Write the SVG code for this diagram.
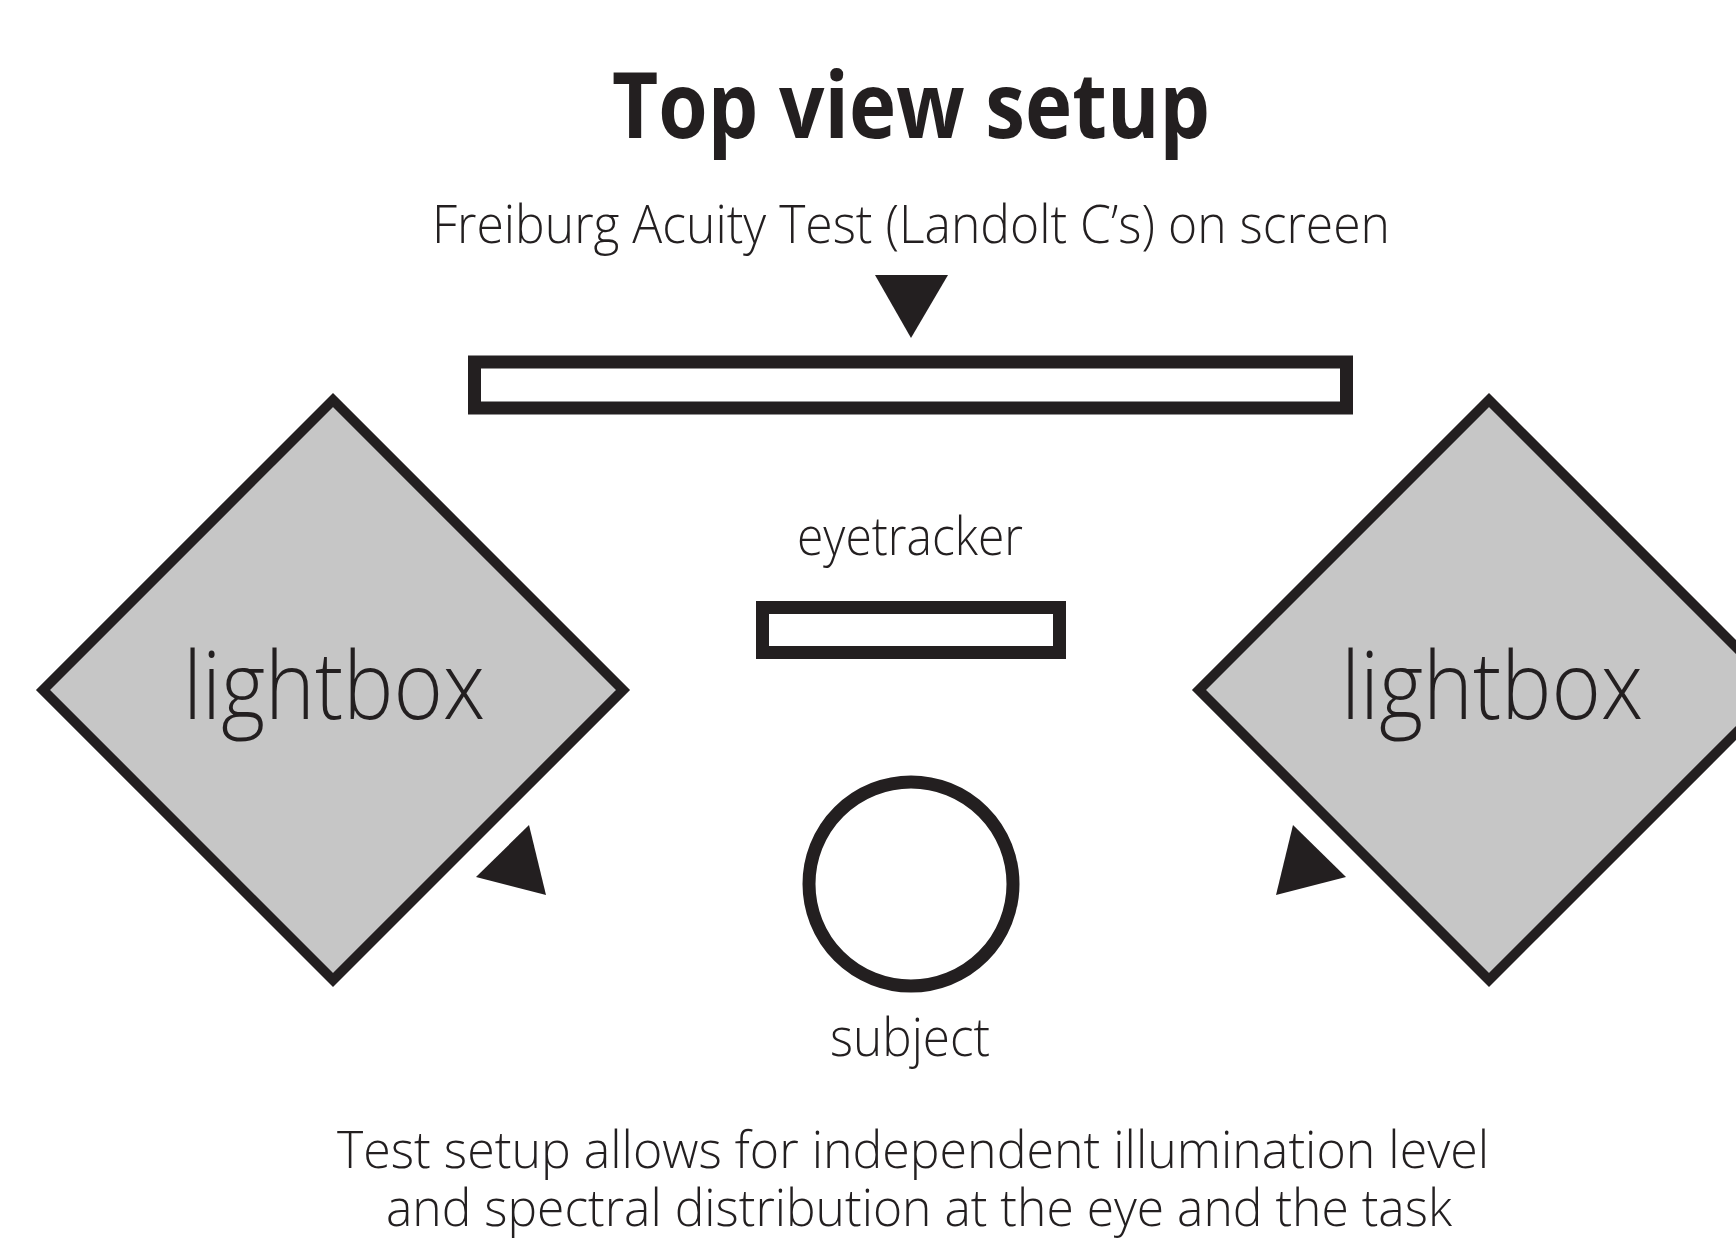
<svg xmlns="http://www.w3.org/2000/svg" width="1736" height="1240" viewBox="0 0 1736 1240">
<style>
.t{font-family:"Open Sans","Liberation Sans",sans-serif;fill:#231f20;text-anchor:middle;font-weight:300}
.title{font-family:"Open Sans","Liberation Sans",sans-serif;fill:#231f20;text-anchor:middle;font-weight:700}
.box{fill:#fff;stroke:#231f20;stroke-width:13}
.lb{fill:#c6c6c6;stroke:#231f20;stroke-width:10;stroke-linejoin:miter}
.arr{fill:#231f20}
</style>
<rect width="1736" height="1240" fill="#fff"/>
<text class="title" x="911" y="138" font-size="92" textLength="598" lengthAdjust="spacingAndGlyphs">Top view setup</text>
<text class="t" x="911" y="243" font-size="54" textLength="958" lengthAdjust="spacingAndGlyphs">Freiburg Acuity Test (Landolt C’s) on screen</text>
<g id="screen">
<rect class="box" x="474.5" y="362" width="872" height="46"/>
</g>
<g id="lightbox-left">
<polygon class="lb" points="333,400 623,690 333,980 43,690"/>
<text class="t" x="334" y="719" font-size="94" textLength="302" lengthAdjust="spacingAndGlyphs">lightbox</text>
</g>
<g id="lightbox-right">
<polygon class="lb" points="1489,400 1779,690 1489,980 1199,690"/>
<text class="t" x="1492" y="719" font-size="94" textLength="302" lengthAdjust="spacingAndGlyphs">lightbox</text>
</g>
<g id="eyetracker">
<text class="t" x="910" y="555" font-size="54" textLength="226" lengthAdjust="spacingAndGlyphs">eyetracker</text>
<rect class="box" x="762.5" y="607.5" width="297" height="45"/>
</g>
<g id="subject">
<circle class="box" cx="911" cy="884" r="102"/>
<text class="t" x="910" y="1056" font-size="54" textLength="160" lengthAdjust="spacingAndGlyphs">subject</text>
</g>
<g id="connectors">
<polygon class="arr" points="875,275 948,275 911,338"/>
<polygon class="arr" points="529,825 476,877 546,895"/>
<polygon class="arr" points="1293,825 1346,877 1276,895"/>
</g>
<text class="t" font-size="52"><tspan x="913" y="1168" textLength="1152" lengthAdjust="spacingAndGlyphs">Test setup allows for independent illumination level</tspan><tspan x="919" y="1226" textLength="1066" lengthAdjust="spacingAndGlyphs">and spectral distribution at the eye and the task</tspan></text>
</svg>
